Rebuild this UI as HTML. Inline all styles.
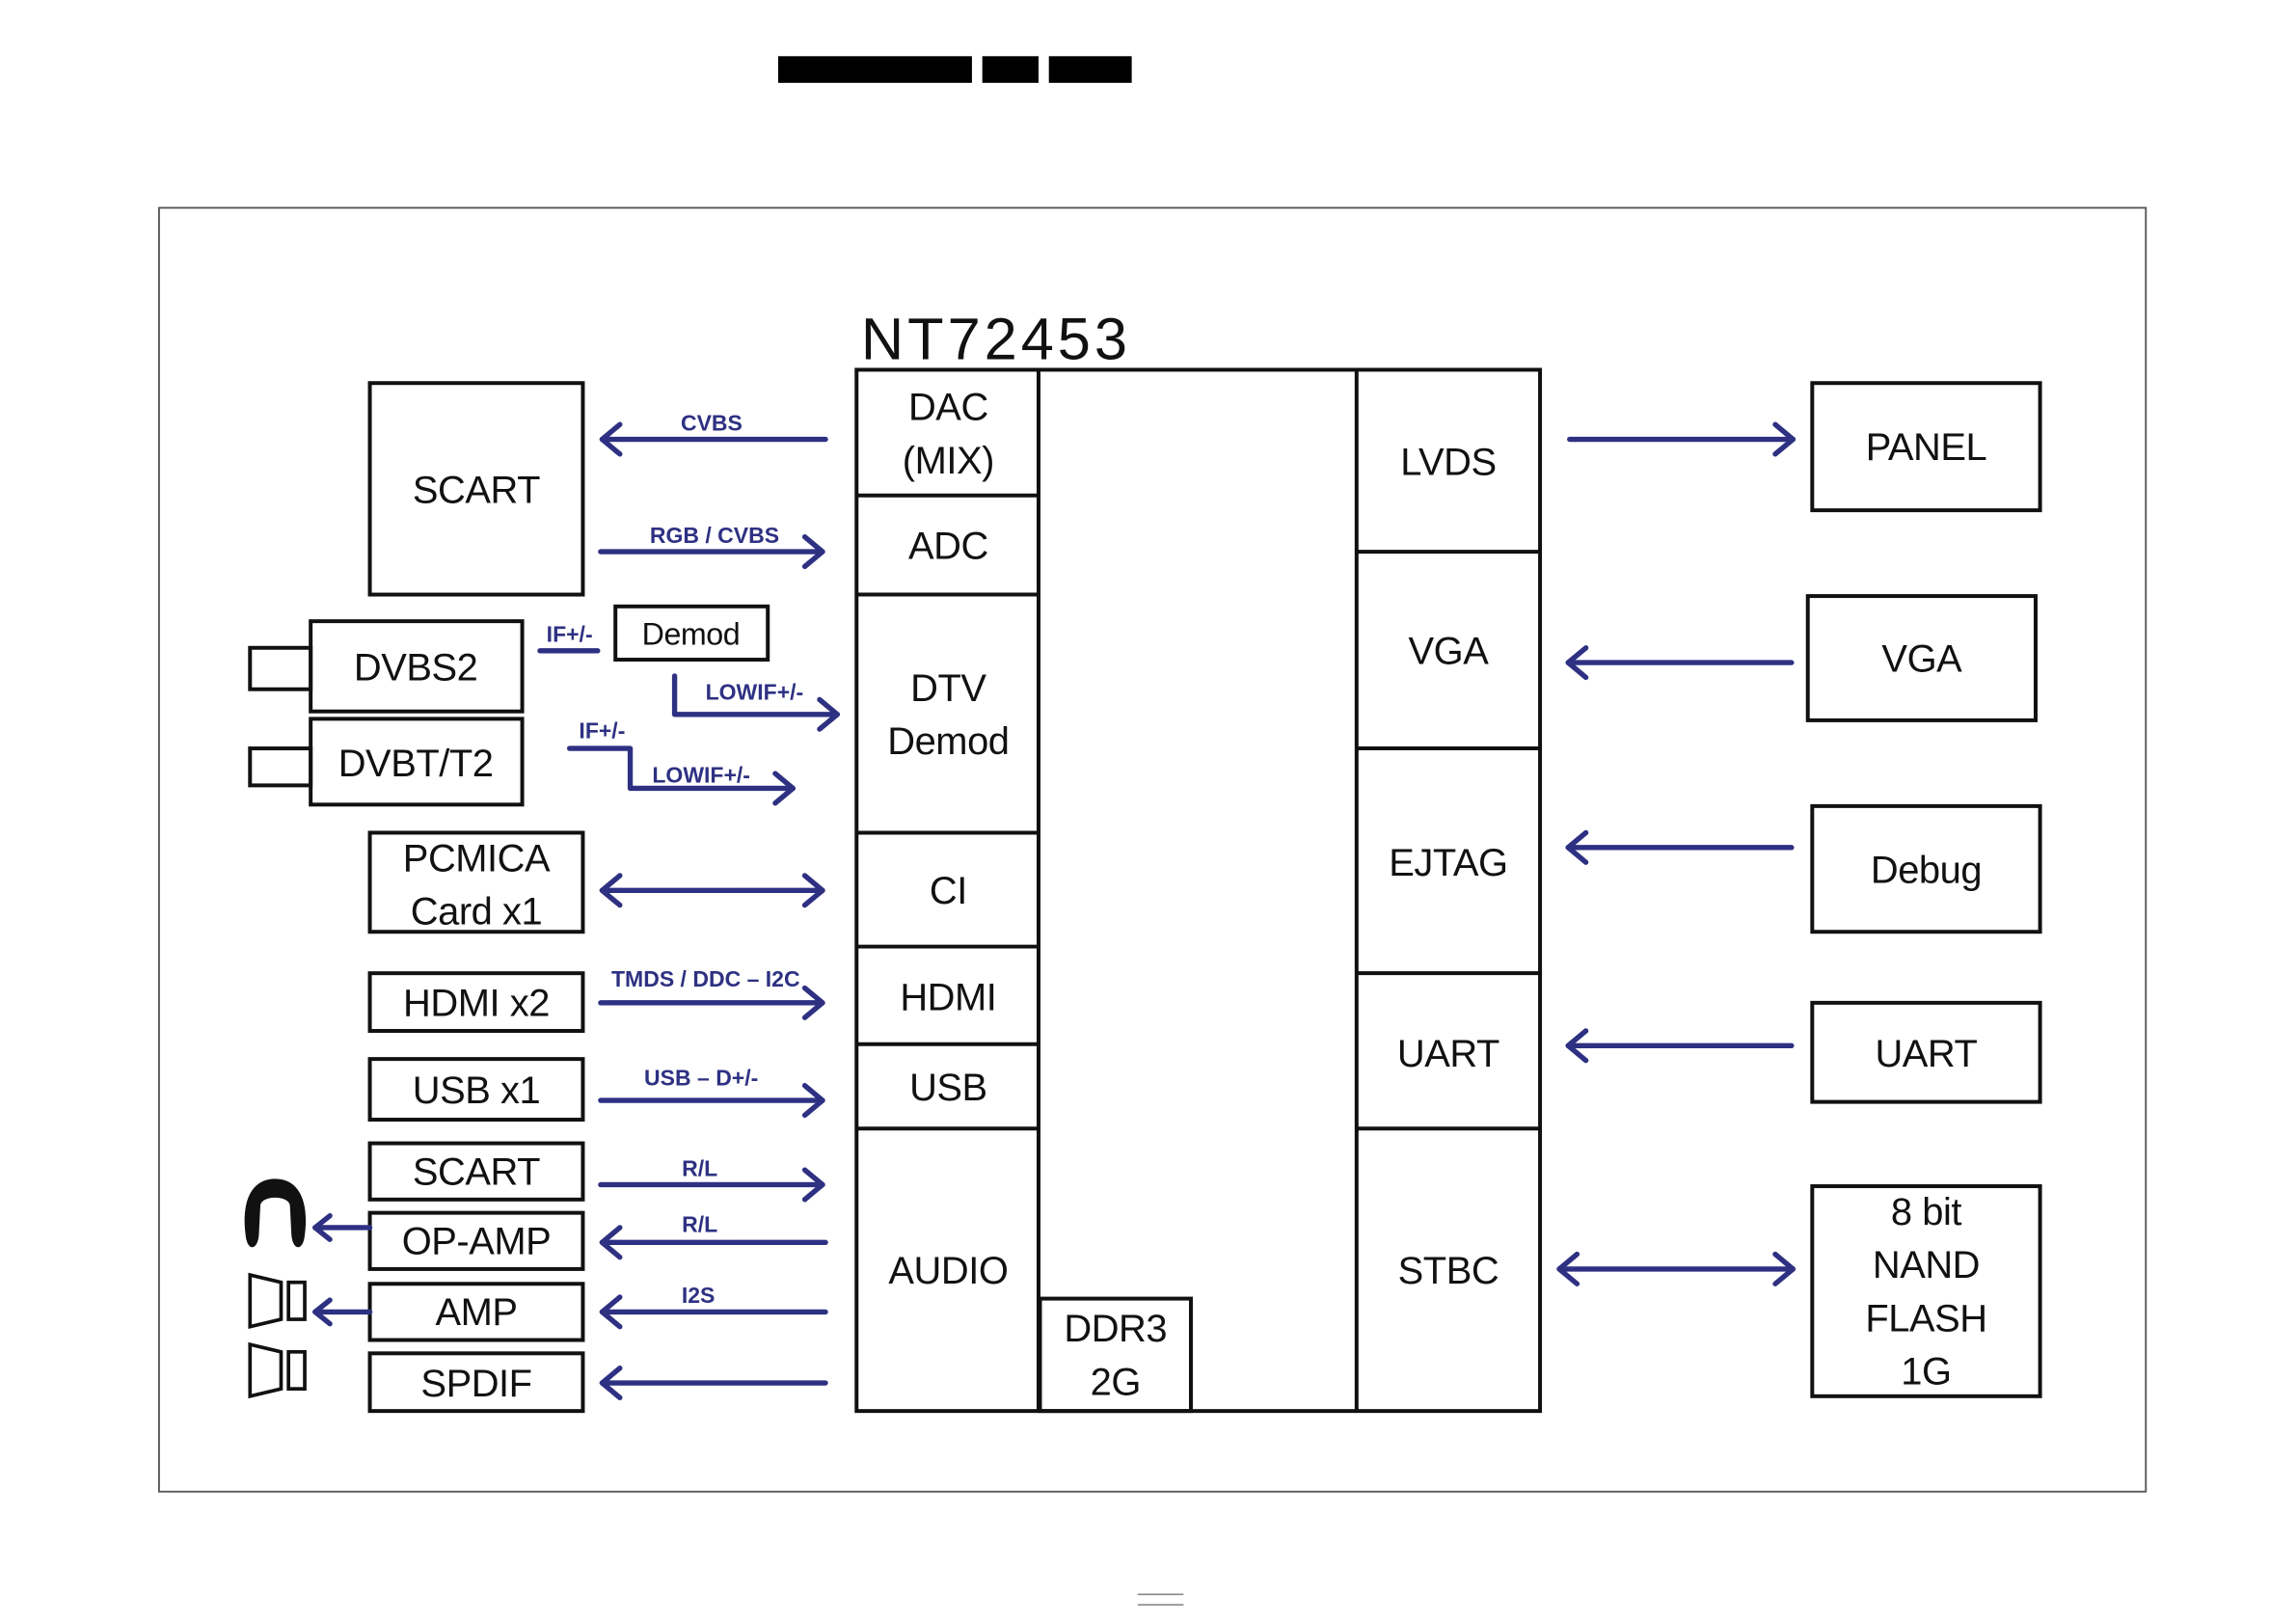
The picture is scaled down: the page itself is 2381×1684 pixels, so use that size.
<!DOCTYPE html>
<html><head><meta charset="utf-8"><style>
html,body{margin:0;padding:0;background:#fff}
svg{display:block}
.b{fill:none;stroke:#111;stroke-width:2.6}
.t{font-family:"Liberation Sans Narrow","Liberation Sans",sans-serif;font-size:26px;fill:#111;text-anchor:middle;letter-spacing:-0.3px}
.l{font-family:"Liberation Sans",sans-serif;font-size:15px;font-weight:bold;fill:#2e3182;text-anchor:middle}
.a{fill:none;stroke:#2e3182;stroke-width:3.5;stroke-linecap:round;stroke-linejoin:round}
</style></head><body>
<svg width="2381" height="1684" viewBox="0 0 1552 1098" preserveAspectRatio="none" xmlns="http://www.w3.org/2000/svg">
<rect x="526" y="38" width="131" height="18" fill="#000"/>
<rect x="664" y="38" width="38" height="18" fill="#000"/>
<rect x="709" y="38" width="56" height="18" fill="#000"/>
<rect x="107.5" y="140.5" width="1343" height="868" fill="none" stroke="#555" stroke-width="1.2"/>
<line x1="769" y1="1078" x2="800" y2="1078" stroke="#888" stroke-width="1"/>
<line x1="769" y1="1085" x2="800" y2="1085" stroke="#888" stroke-width="1"/>
<text x="582" y="243" font-family="Liberation Sans,sans-serif" font-size="40" fill="#111" textLength="180">NT72453</text>
<rect class="b" x="579" y="250" width="462" height="704"/>
<line class="b" x1="702" y1="250" x2="702" y2="954"/>
<line class="b" x1="917" y1="250" x2="917" y2="954"/>
<g class="b">
<line x1="579" y1="335" x2="702" y2="335"/><line x1="579" y1="402" x2="702" y2="402"/>
<line x1="579" y1="563" x2="702" y2="563"/><line x1="579" y1="640" x2="702" y2="640"/>
<line x1="579" y1="706" x2="702" y2="706"/><line x1="579" y1="763" x2="702" y2="763"/>
<line x1="917" y1="373" x2="1041" y2="373"/><line x1="917" y1="506" x2="1041" y2="506"/>
<line x1="917" y1="658" x2="1041" y2="658"/><line x1="917" y1="763" x2="1041" y2="763"/>
<rect x="703" y="878" width="102" height="76"/>
</g>
<text class="t" x="641" y="284">DAC</text><text class="t" x="641" y="320">(MIX)</text>
<text class="t" x="641" y="378">ADC</text>
<text class="t" x="641" y="474">DTV</text><text class="t" x="641" y="510">Demod</text>
<text class="t" x="641" y="611">CI</text>
<text class="t" x="641" y="683">HDMI</text>
<text class="t" x="641" y="744">USB</text>
<text class="t" x="641" y="868">AUDIO</text>
<text class="t" x="754" y="907">DDR3</text><text class="t" x="754" y="943">2G</text>
<text class="t" x="979" y="321">LVDS</text>
<text class="t" x="979" y="449">VGA</text>
<text class="t" x="979" y="592">EJTAG</text>
<text class="t" x="979" y="721">UART</text>
<text class="t" x="979" y="868">STBC</text>
<g class="b">
<rect x="250" y="259" width="144" height="143"/>
<rect x="210" y="420" width="143" height="61"/><rect x="169" y="438" width="41" height="28"/>
<rect x="210" y="486" width="143" height="58"/><rect x="169" y="506" width="41" height="25"/>
<rect x="416" y="410" width="103" height="36"/>
<rect x="250" y="563" width="144" height="67"/>
<rect x="250" y="658" width="144" height="39"/>
<rect x="250" y="716" width="144" height="41"/>
<rect x="250" y="773" width="144" height="38"/>
<rect x="250" y="820" width="144" height="38"/>
<rect x="250" y="868" width="144" height="38"/>
<rect x="250" y="915" width="144" height="39"/>
</g>
<text class="t" x="322" y="340">SCART</text>
<text class="t" x="281" y="460">DVBS2</text>
<text class="t" x="281" y="525">DVBT/T2</text>
<text class="t" x="467" y="436" style="font-size:21px">Demod</text>
<text class="t" x="322" y="589">PCMICA</text><text class="t" x="322" y="625">Card x1</text>
<text class="t" x="322" y="687">HDMI x2</text>
<text class="t" x="322" y="746">USB x1</text>
<text class="t" x="322" y="801">SCART</text>
<text class="t" x="322" y="848">OP-AMP</text>
<text class="t" x="322" y="896">AMP</text>
<text class="t" x="322" y="944">SPDIF</text>
<g class="b">
<rect x="1225" y="259" width="154" height="86"/>
<rect x="1222" y="403" width="154" height="84"/>
<rect x="1225" y="545" width="154" height="85"/>
<rect x="1225" y="678" width="154" height="67"/>
<rect x="1225" y="802" width="154" height="142"/>
</g>
<text class="t" x="1302" y="311">PANEL</text>
<text class="t" x="1299" y="454">VGA</text>
<text class="t" x="1302" y="597">Debug</text>
<text class="t" x="1302" y="721">UART</text>
<text class="t" x="1302" y="828">8 bit</text><text class="t" x="1302" y="864">NAND</text>
<text class="t" x="1302" y="900">FLASH</text><text class="t" x="1302" y="936">1G</text>
<g class="a">
<line x1="558" y1="297" x2="407" y2="297"/><polyline points="419,287 407,297 419,307"/>
<line x1="406" y1="373" x2="556" y2="373"/><polyline points="544,363 556,373 544,383"/>
<line x1="365" y1="440" x2="404" y2="440"/>
<polyline points="456,457 456,483 566,483"/><polyline points="554,473 566,483 554,493"/>
<polyline points="385,506 426,506 426,533 536,533"/><polyline points="524,523 536,533 524,543"/>
<line x1="407" y1="602" x2="556" y2="602"/><polyline points="419,592 407,602 419,612"/><polyline points="544,592 556,602 544,612"/>
<line x1="406" y1="678" x2="556" y2="678"/><polyline points="544,668 556,678 544,688"/>
<line x1="406" y1="744" x2="556" y2="744"/><polyline points="544,734 556,744 544,754"/>
<line x1="406" y1="801" x2="556" y2="801"/><polyline points="544,791 556,801 544,811"/>
<line x1="558" y1="840" x2="407" y2="840"/><polyline points="419,830 407,840 419,850"/>
<line x1="558" y1="887" x2="407" y2="887"/><polyline points="419,877 407,887 419,897"/>
<line x1="558" y1="935" x2="407" y2="935"/><polyline points="419,925 407,935 419,945"/>
<line x1="250" y1="830" x2="213" y2="830"/><polyline points="223,822 213,830 223,838"/>
<line x1="250" y1="887" x2="213" y2="887"/><polyline points="223,879 213,887 223,895"/>
<line x1="1061" y1="297" x2="1212" y2="297"/><polyline points="1200,287 1212,297 1200,307"/>
<line x1="1211" y1="448" x2="1060" y2="448"/><polyline points="1072,438 1060,448 1072,458"/>
<line x1="1211" y1="573" x2="1060" y2="573"/><polyline points="1072,563 1060,573 1072,583"/>
<line x1="1211" y1="707" x2="1060" y2="707"/><polyline points="1072,697 1060,707 1072,717"/>
<line x1="1054" y1="858" x2="1212" y2="858"/><polyline points="1066,848 1054,858 1066,868"/><polyline points="1200,848 1212,858 1200,868"/>
</g>
<text class="l" x="481" y="291">CVBS</text>
<text class="l" x="483" y="367">RGB  / CVBS</text>
<text class="l" x="385" y="434">IF+/-</text>
<text class="l" x="510" y="473">LOWIF+/-</text>
<text class="l" x="407" y="499">IF+/-</text>
<text class="l" x="474" y="529">LOWIF+/-</text>
<text class="l" x="477" y="667">TMDS  / DDC – I2C</text>
<text class="l" x="474" y="734">USB – D+/-</text>
<text class="l" x="473" y="795">R/L</text>
<text class="l" x="473" y="833">R/L</text>
<text class="l" x="472" y="881">I2S</text>
<path d="M166,835 C163,812 170,797 186,797 C202,797 209,812 206,835 C205,846 198,846 197,835 L196,815 C195,808 177,808 176,815 L175,835 C174,846 167,846 166,835 Z" fill="#111"/>
<g fill="none" stroke="#111" stroke-width="2.4">
<polygon points="169,862 190,867 190,892 169,897"/><rect x="195" y="867" width="11" height="25"/>
<polygon points="169,909 190,914 190,939 169,944"/><rect x="195" y="914" width="11" height="25"/>
</g>
</svg>
</body></html>
